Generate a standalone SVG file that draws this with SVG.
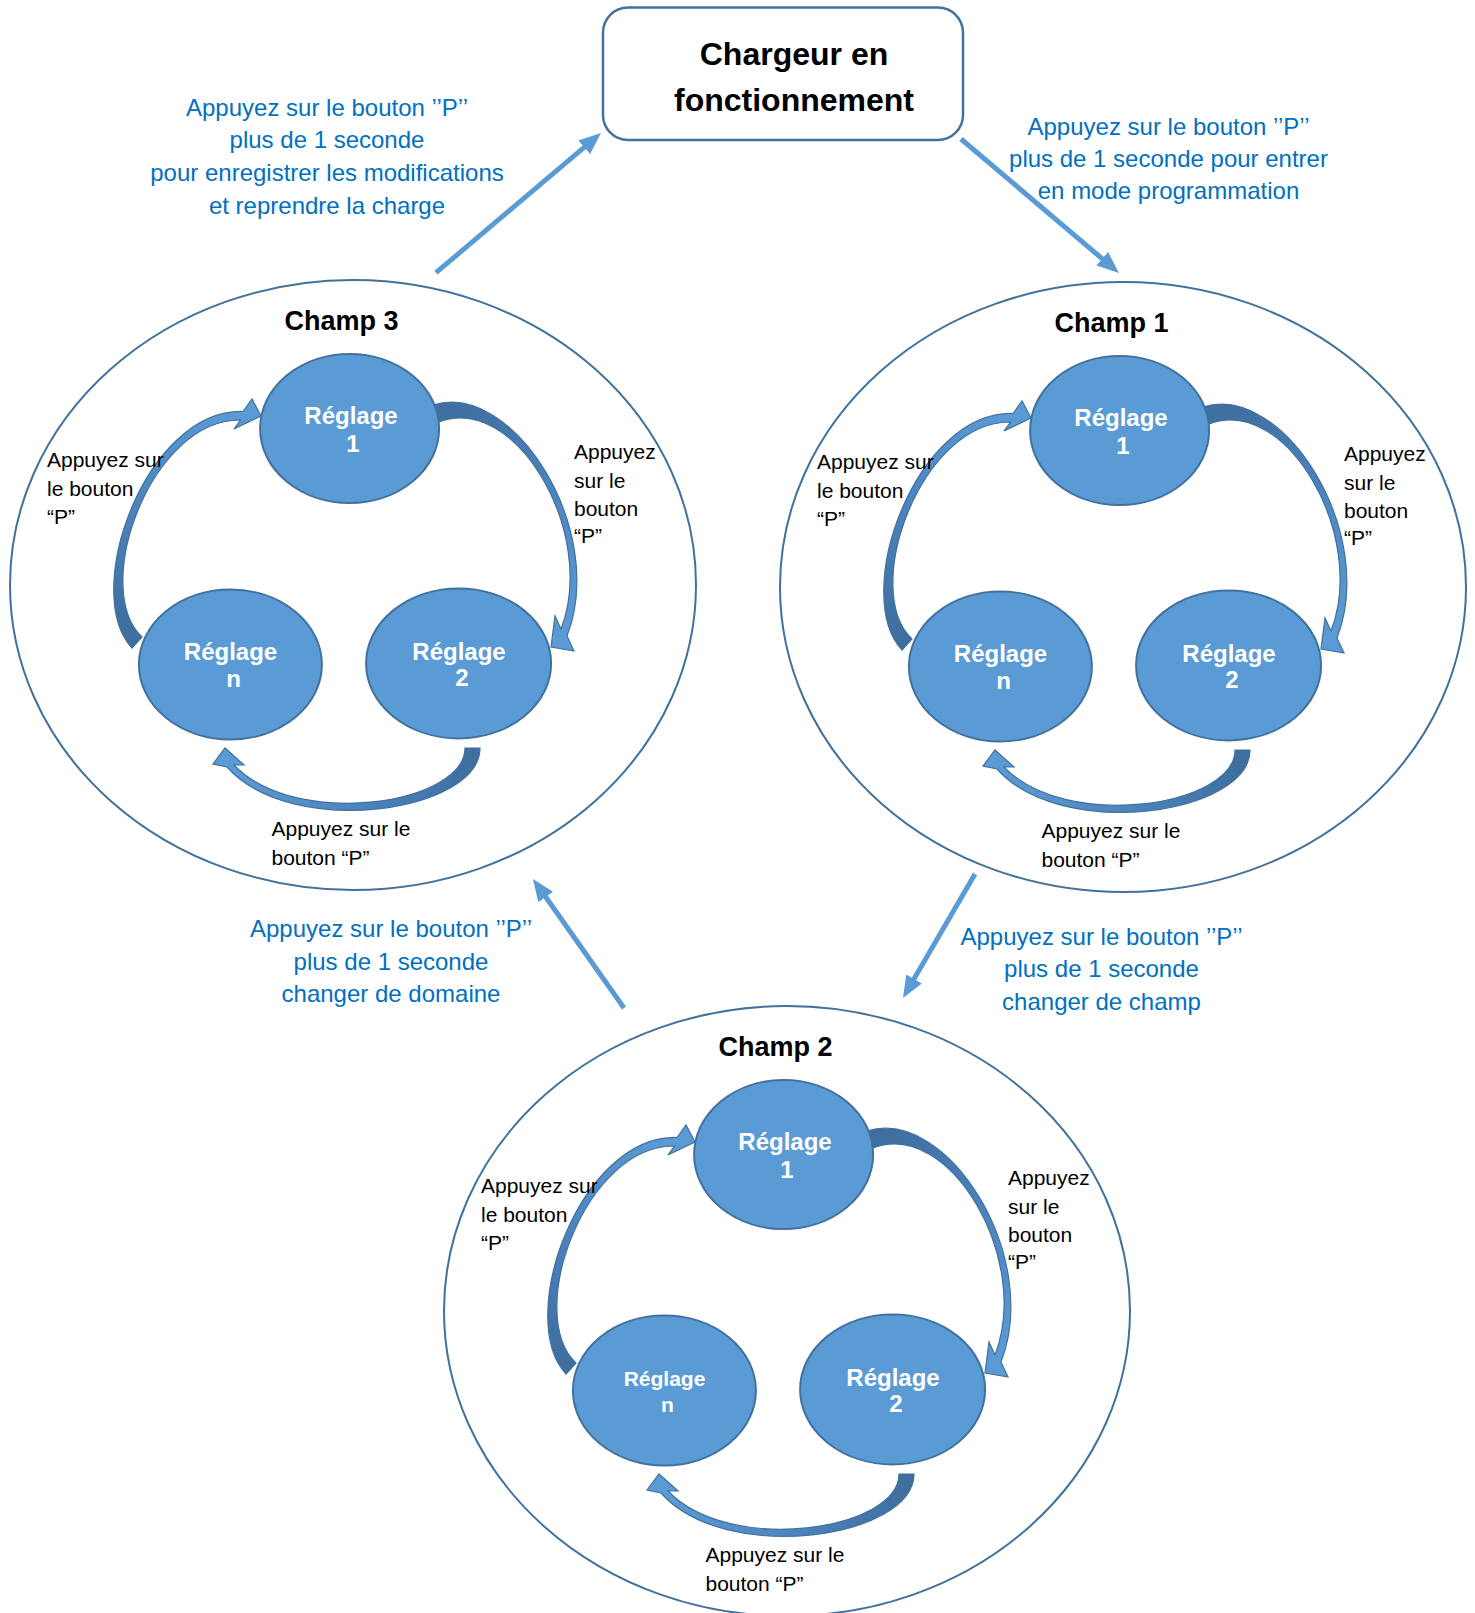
<svg xmlns="http://www.w3.org/2000/svg" width="1475" height="1613" viewBox="0 0 1475 1613">
<style>
  text { font-family: "Liberation Sans", Arial, sans-serif; }
  .ring { fill: none; stroke: #41719c; stroke-width: 2; }
  .node { fill: #5b9bd5; stroke: #41719c; stroke-width: 2; }
  .nt { font-weight: bold; font-size: 24px; fill: #ffffff; text-anchor: middle; }
  .nts { font-weight: bold; font-size: 21px; fill: #ffffff; text-anchor: middle; }
  .title { font-weight: bold; font-size: 27px; fill: #000000; text-anchor: middle; }
  .main { font-weight: bold; font-size: 32px; fill: #000000; text-anchor: middle; }
  .lbl { font-size: 21px; fill: #000000; }
  .blue { font-size: 24px; fill: #0070c0; text-anchor: middle; }
  .conn { stroke: #5b9bd5; stroke-width: 5; fill: none; marker-end: url(#ah); }
  .carrow { stroke: #41719c; stroke-width: 1.2; stroke-linejoin: miter; }
  .box { fill: #ffffff; stroke: #41719c; stroke-width: 2.5; }
</style>
<defs>
  <marker id="ah" markerUnits="userSpaceOnUse" markerWidth="24" markerHeight="20" refX="10" refY="9" orient="auto">
    <path d="M0,0 L22,9 L0,18 Z" fill="#5b9bd5"/>
  </marker>
  <linearGradient id="gL" gradientUnits="userSpaceOnUse" x1="137" y1="643" x2="250" y2="415">
    <stop offset="0" stop-color="#3f6e9f"/>
    <stop offset="0.45" stop-color="#4b82bd"/>
    <stop offset="1" stop-color="#5b9bd5"/>
  </linearGradient>
  <linearGradient id="gR" gradientUnits="userSpaceOnUse" x1="436" y1="413" x2="560" y2="635">
    <stop offset="0" stop-color="#3f6e9f"/>
    <stop offset="0.45" stop-color="#4b82bd"/>
    <stop offset="1" stop-color="#5b9bd5"/>
  </linearGradient>
  <linearGradient id="gB" gradientUnits="userSpaceOnUse" x1="472" y1="748" x2="230" y2="765">
    <stop offset="0" stop-color="#3f6e9f"/>
    <stop offset="0.45" stop-color="#4b82bd"/>
    <stop offset="1" stop-color="#5b9bd5"/>
  </linearGradient>
  <g id="cycle">
    <path class="carrow" fill="url(#gL)" d="M132,648 C80,592 146,409 243,411.5 L252,399 L261,416 L234,429 L240.5,420 C151,419 90,588 142,637 Z"/>
    <path class="carrow" fill="url(#gR)" d="M433,405 C513,380 608,530 567,636 L574,651 L551,647 L555,616 L561,629 C598,533 515,392 439,422 Z"/>
    <path class="carrow" fill="url(#gB)" d="M480,748 C480,812 292,840 227,767 L213,764 L225,748 L244,765 L234,765 C296,830 465,804 465,748 Z"/>
  </g>
</defs>

<rect width="1475" height="1613" fill="#ffffff"/>

<!-- Connectors -->
<g id="connectors">
  <line class="conn" x1="436" y1="272.7" x2="591.8" y2="140.8"/>
  <line class="conn" x1="961" y1="139" x2="1109.8" y2="265.2"/>
  <line class="conn" x1="975" y1="874" x2="909" y2="987.6"/>
  <line class="conn" x1="624" y1="1008" x2="539.9" y2="888.8"/>
  <g id="cycle-champ3"><use href="#cycle"/></g>
  <g id="cycle-champ1"><use href="#cycle" transform="translate(770,2)"/></g>
  <g id="cycle-champ2"><use href="#cycle" transform="translate(434,726)"/></g>
</g>

<!-- Edge labels (blue) -->
<g id="label-save">
  <text class="blue" x="327" y="116">Appuyez sur le bouton ’’P’’</text>
  <text class="blue" x="327" y="148">plus de 1 seconde</text>
  <text class="blue" x="327" y="181">pour enregistrer les modifications</text>
  <text class="blue" x="327" y="214">et reprendre la charge</text>
</g>
<g id="label-enter">
  <text class="blue" x="1168.5" y="135">Appuyez sur le bouton ’’P’’</text>
  <text class="blue" x="1168.5" y="167">plus de 1 seconde pour entrer</text>
  <text class="blue" x="1168.5" y="199">en mode programmation</text>
</g>
<g id="label-domaine">
  <text class="blue" x="391" y="937">Appuyez sur le bouton ’’P’’</text>
  <text class="blue" x="391" y="970">plus de 1 seconde</text>
  <text class="blue" x="391" y="1002">changer de domaine</text>
</g>
<g id="label-champ">
  <text class="blue" x="1101.5" y="945">Appuyez sur le bouton ’’P’’</text>
  <text class="blue" x="1101.5" y="977">plus de 1 seconde</text>
  <text class="blue" x="1101.5" y="1010">changer de champ</text>
</g>

<!-- Top node -->
<g id="chargeur">
  <rect class="box" x="603" y="7.5" width="360" height="132.5" rx="25" ry="25"/>
  <text class="main" x="794" y="65">Chargeur en</text>
  <text class="main" x="794" y="111">fonctionnement</text>
</g>

<!-- Champ 3 -->
<g id="champ3">
  <ellipse class="ring" cx="353" cy="585" rx="343" ry="305"/>
  <text class="title" x="341.5" y="330">Champ 3</text>
  <text class="lbl" x="47" y="467">Appuyez sur</text>
  <text class="lbl" x="47" y="496">le bouton</text>
  <text class="lbl" x="47" y="524">“P”</text>
  <text class="lbl" x="574" y="459">Appuyez</text>
  <text class="lbl" x="574" y="488">sur le</text>
  <text class="lbl" x="574" y="516">bouton</text>
  <text class="lbl" x="574" y="543">“P”</text>
  <text class="lbl" x="271.5" y="836">Appuyez sur le</text>
  <text class="lbl" x="271.5" y="865">bouton “P”</text>
  <g id="champ3-reglage1">
    <ellipse class="node" cx="349.6" cy="428.5" rx="89.5" ry="74.6"/>
    <text class="nt" x="351" y="424">Réglage</text>
    <text class="nt" x="353" y="452">1</text>
  </g>
  <g id="champ3-reglagen">
    <ellipse class="node" cx="230.4" cy="664.5" rx="91.5" ry="75"/>
    <text class="nt" x="230.5" y="660">Réglage</text>
    <text class="nt" x="233.5" y="687">n</text>
  </g>
  <g id="champ3-reglage2">
    <ellipse class="node" cx="458.6" cy="663.4" rx="92.5" ry="75"/>
    <text class="nt" x="459" y="659.5">Réglage</text>
    <text class="nt" x="462" y="686">2</text>
  </g>
</g>

<!-- Champ 1 -->
<g id="champ1" transform="translate(770,2)">
  <ellipse class="ring" cx="353" cy="585" rx="343" ry="305"/>
  <text class="title" x="341.5" y="330">Champ 1</text>
  <text class="lbl" x="47" y="467">Appuyez sur</text>
  <text class="lbl" x="47" y="496">le bouton</text>
  <text class="lbl" x="47" y="524">“P”</text>
  <text class="lbl" x="574" y="459">Appuyez</text>
  <text class="lbl" x="574" y="488">sur le</text>
  <text class="lbl" x="574" y="516">bouton</text>
  <text class="lbl" x="574" y="543">“P”</text>
  <text class="lbl" x="271.5" y="836">Appuyez sur le</text>
  <text class="lbl" x="271.5" y="865">bouton “P”</text>
  <g id="champ1-reglage1">
    <ellipse class="node" cx="349.6" cy="428.5" rx="89.5" ry="74.6"/>
    <text class="nt" x="351" y="424">Réglage</text>
    <text class="nt" x="353" y="452">1</text>
  </g>
  <g id="champ1-reglagen">
    <ellipse class="node" cx="230.4" cy="664.5" rx="91.5" ry="75"/>
    <text class="nt" x="230.5" y="660">Réglage</text>
    <text class="nt" x="233.5" y="687">n</text>
  </g>
  <g id="champ1-reglage2">
    <ellipse class="node" cx="458.6" cy="663.4" rx="92.5" ry="75"/>
    <text class="nt" x="459" y="659.5">Réglage</text>
    <text class="nt" x="462" y="686">2</text>
  </g>
</g>

<!-- Champ 2 -->
<g id="champ2" transform="translate(434,726)">
  <ellipse class="ring" cx="353" cy="585" rx="343" ry="305"/>
  <text class="title" x="341.5" y="330">Champ 2</text>
  <text class="lbl" x="47" y="467">Appuyez sur</text>
  <text class="lbl" x="47" y="496">le bouton</text>
  <text class="lbl" x="47" y="524">“P”</text>
  <text class="lbl" x="574" y="459">Appuyez</text>
  <text class="lbl" x="574" y="488">sur le</text>
  <text class="lbl" x="574" y="516">bouton</text>
  <text class="lbl" x="574" y="543">“P”</text>
  <text class="lbl" x="271.5" y="836">Appuyez sur le</text>
  <text class="lbl" x="271.5" y="865">bouton “P”</text>
  <g id="champ2-reglage1">
    <ellipse class="node" cx="349.6" cy="428.5" rx="89.5" ry="74.6"/>
    <text class="nt" x="351" y="424">Réglage</text>
    <text class="nt" x="353" y="452">1</text>
  </g>
  <g id="champ2-reglagen">
    <ellipse class="node" cx="230.4" cy="664.5" rx="91.5" ry="75"/>
    <text class="nts" x="230.5" y="660">Réglage</text>
    <text class="nts" x="233.5" y="686">n</text>
  </g>
  <g id="champ2-reglage2">
    <ellipse class="node" cx="458.6" cy="663.4" rx="92.5" ry="75"/>
    <text class="nt" x="459" y="659.5">Réglage</text>
    <text class="nt" x="462" y="686">2</text>
  </g>
</g>
</svg>
